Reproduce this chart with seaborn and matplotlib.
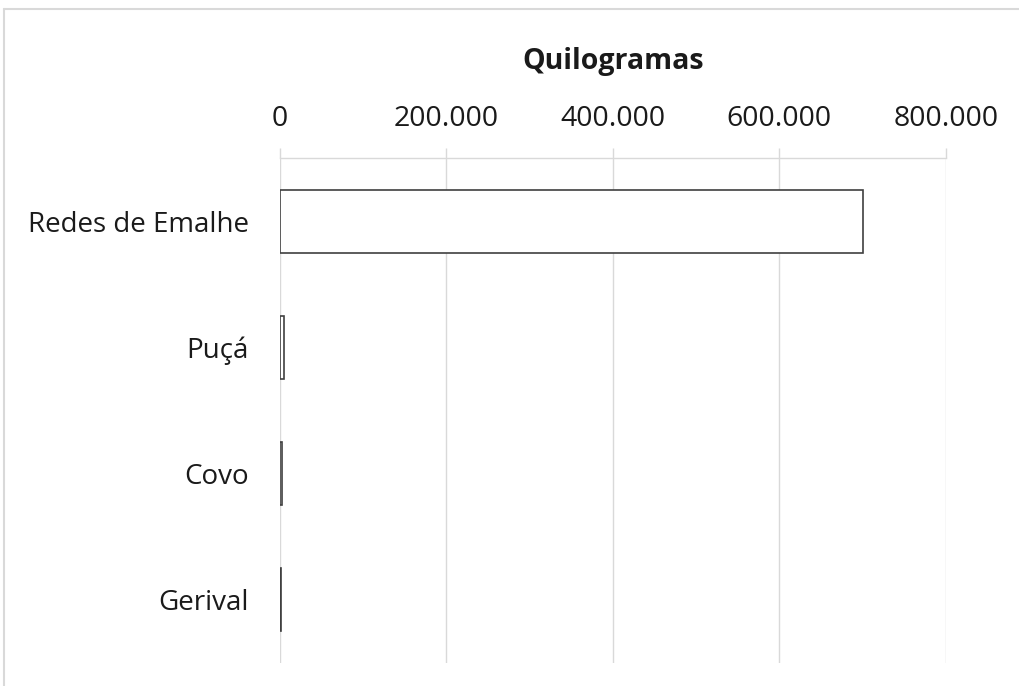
#Import needed packages
import pandas as pd
import seaborn as sns
import matplotlib.pyplot as plt
from matplotlib.lines import Line2D
from matplotlib.ticker import FuncFormatter

#Chart data
categorias = ['Redes de Emalhe', 'Puçá', 'Covo', 'Gerival']
quilogramas = [700000, 5000, 3500, 1500]
ticks_x = [0, 200000, 400000, 600000, 800000]

df = pd.DataFrame({'Arte': categorias, 'Kg': quilogramas})

sns.set_theme(style='white')
plt.rcParams['font.family'] = ['Open Sans', 'DejaVu Sans']

fig = plt.figure(figsize=(10.19, 6.86), dpi=100)
ax = fig.add_axes([0.2743, 0.0335, 0.6541, 0.7362])

#Light border (top and left only) around the chart area
bx, by = 4 / 1019, 1 - 9 / 686
fig.lines.append(Line2D([bx, 1.0], [by, by], transform=fig.transFigure, color='#d9d9d9', linewidth=1.5))
fig.lines.append(Line2D([bx, bx], [0.0, by], transform=fig.transFigure, color='#d9d9d9', linewidth=1.5))

sns.barplot(data=df, y='Arte', x='Kg', orient='h', width=0.5, color='white',
            edgecolor='#404040', linewidth=1.2, ax=ax, zorder=3)

ax.set_xlim(0, 800000)
ax.set_xticks(ticks_x)
ax.xaxis.set_major_formatter(FuncFormatter(lambda v, p: f'{int(v):,}'.replace(',', '.')))
ax.xaxis.tick_top()
ax.tick_params(axis='x', direction='out', length=7.2, width=1, color='#d9d9d9',
               pad=11, labelsize=20.5, labelcolor='#1a1a1a')
ax.tick_params(axis='y', length=0, pad=22, labelsize=20, labelcolor='#1a1a1a')
ax.grid(axis='x', color='#d9d9d9', linewidth=1)
ax.set_axisbelow(True)
for s in ['bottom', 'right', 'left']:
    ax.spines[s].set_visible(False)
ax.spines['top'].set_color('#d9d9d9')
ax.spines['top'].set_linewidth(1)
ax.set_xlabel('')
ax.set_ylabel('')

fig.text(613 / 1019, 1 - 61 / 686, 'Quilogramas', ha='center', va='center',
         fontsize=20.5, fontweight='bold', color='#1a1a1a')

plt.savefig('out.png', dpi=100)
